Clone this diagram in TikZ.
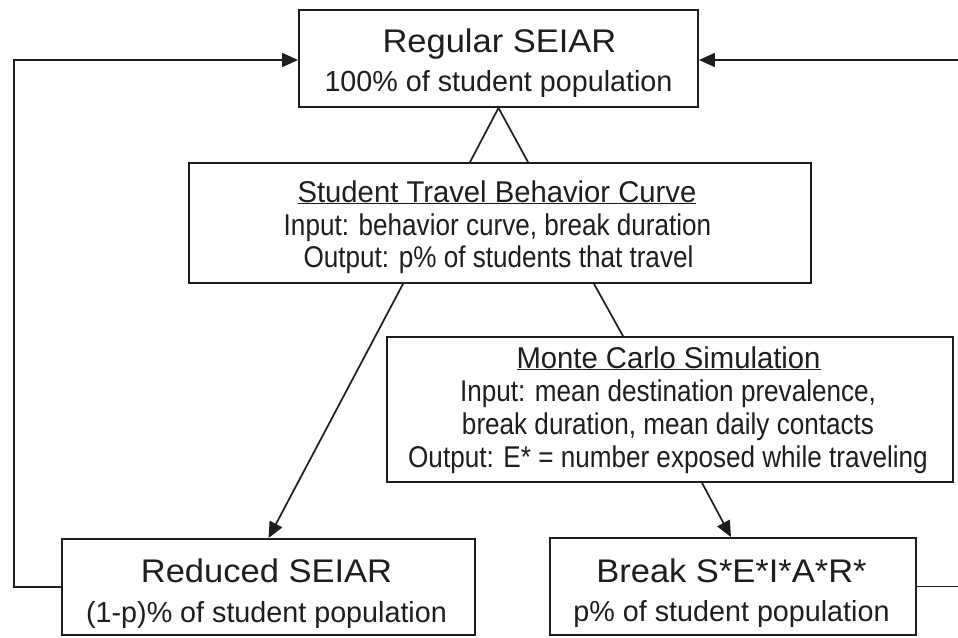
\documentclass[tikz,border=0pt]{standalone}
\usepackage{fontspec}
\setmainfont{Liberation Sans}
\newfontfamily\fbig[FakeStretch=1.055]{Liberation Sans}
\newfontfamily\fsub[FakeStretch=0.99]{Liberation Sans}
\newfontfamily\fmid[FakeStretch=0.975]{Liberation Sans}
\newfontfamily\fbody[FakeStretch=0.87]{Liberation Sans}
\usetikzlibrary{arrows.meta,calc}
\definecolor{ink}{HTML}{1E1E1E}
\begin{document}
\begin{tikzpicture}[x=1pt,y=-1pt,
  box/.style={draw=ink, line width=1.8pt, inner sep=0pt},
  ttl/.style={anchor=base, inner sep=0pt, text=ink, font=\fbig\fontsize{32.7}{36}\selectfont},
  subt/.style={anchor=base, inner sep=0pt, text=ink, font=\fsub\fontsize{29}{32}\selectfont},
  midt/.style={anchor=base, inner sep=0pt, text=ink, font=\fmid\fontsize{30}{33}\selectfont},
  body/.style={anchor=base, inner sep=0pt, text=ink, font=\fbody\fontsize{30}{33}\selectfont},
  conn/.style={draw=ink, line width=1.7pt},
  arr/.style={conn, -{Triangle[length=16pt,width=14pt]}}]
\useasboundingbox (0,0) rectangle (958,637);
\clip (0,0) rectangle (958,637);
\fill[white] (0,0) rectangle (958,637);

% boxes
\node[box, minimum width=399pt, minimum height=97pt] (reg) at (498.5,58.5) {};
\node[box, minimum width=622pt, minimum height=120pt] (stbc) at (500,223) {};
\node[box, minimum width=566pt, minimum height=145pt] (mc) at (670,409.5) {};
\node[box, minimum width=413pt, minimum height=96pt] (red) at (268.5,587) {};
\node[box, minimum width=366pt, minimum height=97pt] (brk) at (733,586.5) {};

% texts
\node[ttl] (regT) at (499.5,52) {Regular SEIAR};
\node[subt] (regS) at (498.5,91) {100\% of student population};

\node[midt] (stbcT) at (497,202) {\underline{Student Travel Behavior Curve}};
\node[body] (stbcA) at (497.5,235) {Input: behavior curve, break duration};
\node[body] (stbcB) at (498.5,267) {Output: p\% of students that travel};

\node[midt] (mcT) at (668.5,368) {\underline{Monte Carlo Simulation}};
\node[body] (mcA) at (668,401) {Input: mean destination prevalence,};
\node[body] (mcB) at (668,434) {break duration, mean daily contacts};
\node[body] (mcC) at (668,467) {Output: E* = number exposed while traveling};

\node[ttl] (redT) at (266.5,582) {Reduced SEIAR};
\node[subt] (redS) at (266.5,622) {(1-p)\% of student population};

\node[ttl] (brkT) at (731.5,582) {Break S*E*I*A*R*};
\node[subt] (brkS) at (731.5,621) {p\% of student population};

% connectors
\coordinate (lc) at (14,60);
\coordinate (rc) at (965,60);
\draw[conn] ($(stbc.north)+(-30,0)$) -- (reg.south) -- ($(stbc.north)+(28,0)$);
\draw[arr] ($(stbc.south)+(-97,0)$) -- (red.north);
\draw[conn] ($(stbc.south)+(94,0)$) -- ($(mc.north)+(-47,0)$);
\draw[arr] ($(mc.south)+(32,0)$) -- ($(brk.north)+(-2,0)$);
\draw[arr] (red.west) -| (lc) -- (reg.west |- lc);
\draw[arr] (brk.east) -| (rc) -- (reg.east |- rc);
\end{tikzpicture}
\end{document}
